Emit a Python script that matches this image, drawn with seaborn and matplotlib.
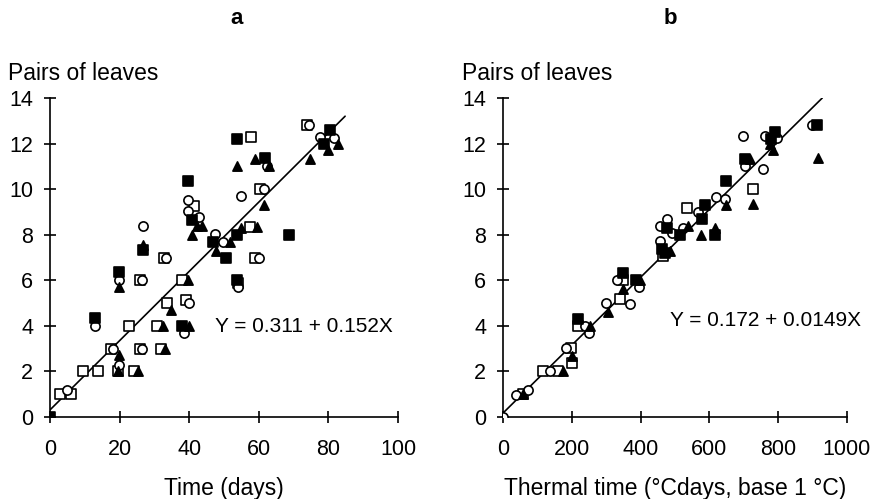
import matplotlib
matplotlib.use("Agg")
import matplotlib.pyplot as plt
import seaborn as sns
import numpy as np
import pandas as pd

sns.set_style("ticks")
plt.rcParams['font.family'] = ['Liberation Sans', 'DejaVu Sans']
plt.rcParams['text.color'] = 'black'
plt.rcParams['axes.labelcolor'] = 'black'
plt.rcParams['xtick.color'] = 'black'
plt.rcParams['ytick.color'] = 'black'

# ---------------- Panel a: time (days) ----------------
a_open_circle_x = [4.8, 12.9, 18.2, 19.7, 19.7, 26.3, 26.3, 26.6, 33.3, 38.5, 39.8, 39.6, 39.6, 42.7, 47.5, 49.7, 54.8, 54.0, 60.2, 61.6, 62.3, 74.3, 77.7, 81.5]
a_open_circle_y = [1.17, 4.0, 3.0, 2.3, 6.0, 6.0, 3.0, 8.37, 7.0, 3.7, 5.0, 9.54, 9.03, 8.78, 8.05, 7.7, 9.68, 5.7, 7.0, 10.0, 11.03, 12.83, 12.3, 12.24]
a_open_square_x = [2.9, 6.0, 9.6, 13.9, 17.5, 19.4, 22.8, 24.0, 25.9, 25.9, 30.7, 31.8, 32.8, 33.6, 37.9, 39.0, 41.5, 57.5, 59.0, 57.7, 60.4, 73.8, 54.0]
a_open_square_y = [1.02, 1.0, 2.0, 2.0, 3.0, 2.0, 4.0, 2.0, 3.0, 6.0, 4.0, 3.0, 7.0, 5.0, 6.0, 5.15, 9.24, 8.32, 7.0, 12.3, 10.0, 12.83, 5.9]
a_filled_square_x = [0, 12.9, 19.7, 26.7, 37.9, 39.6, 40.7, 46.7, 50.6, 53.7, 53.7, 53.7, 61.8, 68.6, 78.6, 80.5]
a_filled_square_y = [0, 4.34, 6.35, 7.34, 4.0, 10.34, 8.66, 7.68, 7.0, 12.2, 8.0, 6.03, 11.37, 8.0, 12.0, 12.58]
a_triangle_x = [19.7, 19.4, 19.7, 25.4, 26.7, 32.6, 33.1, 34.7, 39.6, 39.8, 40.7, 42.2, 43.6, 47.7, 51.8, 53.7, 54.8, 58.8, 59.4, 61.6, 63.0, 74.8, 79.8, 82.7]
a_triangle_y = [2.7, 2.0, 5.7, 2.0, 7.56, 4.0, 3.0, 4.7, 6.0, 4.0, 8.0, 8.37, 8.37, 7.3, 7.7, 11.0, 8.3, 11.34, 8.32, 9.3, 11.0, 11.34, 11.7, 12.0]
a_intercept, a_slope = 0.311, 0.152
a_xline = [0, 84.8]

# ---------------- Panel b: thermal time ----------------
b_open_circle_x = [0, 39, 73, 136, 184, 238, 250, 299, 330, 369, 396, 456, 476, 490, 456, 522, 568, 619, 645, 699, 704, 762, 757, 796, 898]
b_open_circle_y = [0, 0.98, 1.17, 2.0, 3.03, 4.0, 3.7, 5.0, 6.0, 4.97, 5.7, 8.39, 8.71, 8.06, 7.73, 8.3, 9.0, 9.66, 9.56, 12.35, 11.0, 12.35, 10.88, 12.23, 12.83]
b_open_square_x = [58, 116, 160, 199, 202, 218, 350, 340, 464, 536, 726]
b_open_square_y = [1.0, 2.0, 2.0, 3.03, 2.35, 3.99, 6.0, 5.16, 7.07, 9.19, 10.0]
b_filled_square_x = [218, 350, 386, 476, 461, 515, 587, 578, 615, 649, 704, 791, 780, 913, 472]
b_filled_square_y = [4.28, 6.33, 6.0, 8.31, 7.36, 8.0, 9.3, 8.68, 8.0, 10.37, 11.32, 12.52, 12.2, 12.83, 7.2]
b_triangle_x = [58, 175, 202, 252, 306, 350, 485, 539, 576, 617, 648, 718, 728, 777, 786, 917, 398]
b_triangle_y = [1.0, 2.0, 2.67, 4.0, 4.6, 5.63, 7.29, 8.39, 8.0, 8.3, 9.3, 11.32, 9.34, 12.0, 11.73, 11.35, 6.0]
b_intercept, b_slope = 0.172, 0.0149
b_xline = [0, 928]

y_ticks = [0, 2, 4, 6, 8, 10, 12, 14]
a_xticks = [0, 20, 40, 60, 80, 100]
b_xticks = [0, 200, 400, 600, 800, 1000]

fig = plt.figure(figsize=(8.78, 4.99), dpi=100)
axa = fig.add_axes([50/878, (499-417)/499, 348/878, 319/499])
axb = fig.add_axes([503/878, (499-417)/499, 344/878, 319/499])

def draw(ax, series, intercept, slope, xline, xticks, xlim, xlabel, eq, eqpos, panel, panel_x, ylab_x):
    xl = np.array(xline, dtype=float)
    ax.plot(xl, intercept + slope * xl, color='black', lw=1.2, zorder=1)
    for (xs, ys, marker, face) in series:
        sns.scatterplot(x=xs, y=ys, ax=ax, marker=marker, s=44,
                        facecolor=face, edgecolor='black', linewidth=1.2, zorder=3)
    ax.set_xlim(xlim)
    ax.set_ylim(0, 14)
    ax.set_xticks(xticks)
    ax.set_yticks(y_ticks)
    ax.tick_params(direction='inout', length=8, width=1.2, labelsize=15.5, color='black')
    ax.tick_params(axis='x', pad=12)
    ax.tick_params(axis='y', pad=8)
    for s in ['top', 'right']:
        ax.spines[s].set_visible(False)
    for s in ['left', 'bottom']:
        ax.spines[s].set_linewidth(1.2)
        ax.spines[s].set_color('black')
    ax.set_xlabel(xlabel, fontsize=16.5, labelpad=12)
    ax.text(eqpos[0], eqpos[1], eq, fontsize=15, ha='left', va='center')
    ax.text(ylab_x, 1.078, 'Pairs of leaves', transform=ax.transAxes, fontsize=16.5, ha='left', va='center')
    ax.text(panel_x, 1.248, panel, transform=ax.transAxes, fontsize=16, fontweight='bold', ha='center', va='center')

draw(axa,
     [(a_open_square_x, a_open_square_y, 's', 'white'),
      (a_open_circle_x, a_open_circle_y, 'o', 'white'),
      (a_filled_square_x, a_filled_square_y, 's', 'black'),
      (a_triangle_x, a_triangle_y, '^', 'black')],
     a_intercept, a_slope, a_xline, a_xticks, (0, 100), 'Time (days)',
     'Y = 0.311 + 0.152X', (47.4, 3.95), 'a', 0.535, -0.121)
draw(axb,
     [(b_open_square_x, b_open_square_y, 's', 'white'),
      (b_open_circle_x, b_open_circle_y, 'o', 'white'),
      (b_filled_square_x, b_filled_square_y, 's', 'black'),
      (b_triangle_x, b_triangle_y, '^', 'black')],
     b_intercept, b_slope, b_xline, b_xticks, (0, 1000), 'Thermal time (°Cdays, base 1 °C)',
     'Y = 0.172 + 0.0149X', (485, 4.25), 'b', 0.486, -0.119)

fig.savefig('out.png', dpi=100)
